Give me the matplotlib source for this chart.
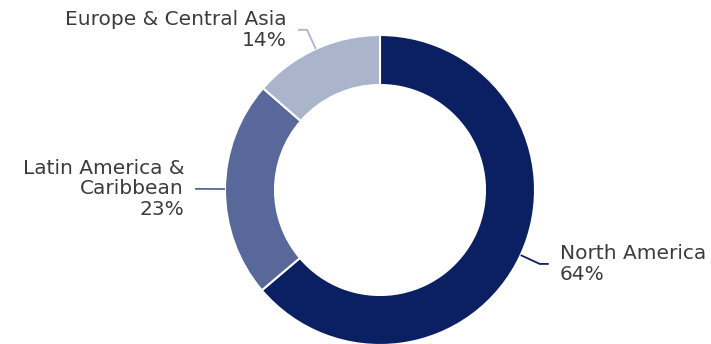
import numpy as np
import matplotlib.pyplot as plt

regions = ['North America', 'Latin America &\nCaribbean', 'Europe & Central Asia']
shares = [63.8, 22.6, 13.6]
pct_labels = ['64%', '23%', '14%']
colors = ['#0a2062', '#58689a', '#aab4ca']

W, H = 711, 344
fig = plt.figure(figsize=(W / 100, H / 100), dpi=100)
ax = fig.add_axes([0, 0, 1, 1])

# pie is drawn in pixel units so the layout can be matched directly
cx, cy = 380, H - 190
R, ring = 155, 50
wedges, _ = ax.pie(shares, colors=colors, radius=R, center=(cx, cy),
                   startangle=90, counterclock=False,
                   wedgeprops=dict(width=ring, edgecolor='white', linewidth=1.5))
ax.set_xlim(0, W)
ax.set_ylim(0, H)
ax.set_aspect('equal')
ax.axis('off')

for w, name, pct, col in zip(wedges, regions, pct_labels, colors):
    ang = np.deg2rad((w.theta1 + w.theta2) / 2)
    x0, y0 = cx + R * np.cos(ang), cy + R * np.sin(ang)
    x1, y1 = cx + 176 * np.cos(ang), cy + 176 * np.sin(ang)
    side = 1 if np.cos(ang) > 0 else -1
    x2 = x1 + side * 9
    ax.plot([x0, x1, x2], [y0, y1, y1], color=col, lw=1.3,
            solid_capstyle='butt', clip_on=False)
    ax.text(x2 + side * 11, y1, name + '\n' + pct,
            ha='left' if side > 0 else 'right', va='center',
            multialignment='left' if side > 0 else 'right',
            fontsize=14.5, color='#3c3c3c', linespacing=1.1,
            family='DejaVu Sans')

fig.savefig('out.png', dpi=100)
